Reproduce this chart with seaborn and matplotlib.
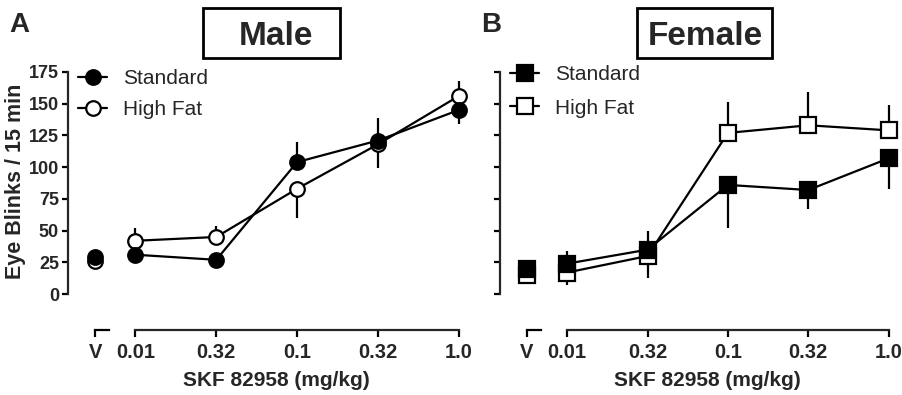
import numpy as np
import pandas as pd
import matplotlib
matplotlib.use('Agg')
import matplotlib.pyplot as plt
import seaborn as sns
from matplotlib.patches import Rectangle
from matplotlib.spines import Spine

# ---------------- data ----------------
dose_labels = ['V', '0.01', '0.32', '0.1', '0.32', '1.0']
dose_pos = [-0.5, 0, 1, 2, 3, 4]
y_ticks = [0, 25, 50, 75, 100, 125, 150, 175]

male_std = [29, 31, 27, 104, 121, 145]
male_std_up = [0, 0, 0, 16, 18, 0]
male_std_dn = [0, 0, 0, 0, 0, 11]
male_hf = [26, 42, 45, 83, 118, 156]
male_hf_up = [0, 10, 9, 0, 0, 12]
male_hf_dn = [0, 0, 0, 23, 19, 0]

fem_std = [20, 24, 35, 86, 82, 107]
fem_std_up = [6, 10, 15, 0, 0, 0]
fem_std_dn = [0, 0, 0, 34, 15, 24]
fem_hf = [15, 17, 30, 127, 133, 129]
fem_hf_up = [0, 0, 0, 24, 26, 20]
fem_hf_dn = [0, 10, 17, 0, 0, 0]

# ---------------- style ----------------
sns.set_style('ticks')
plt.rcParams['font.family'] = ['Liberation Sans', 'DejaVu Sans']
LW = 1.6

fig = plt.figure(figsize=(9.03, 3.95), dpi=100)
W, H = 903.0, 395.0

axA = fig.add_axes([68 / W, (H - 330) / H, 402 / W, 265 / H])
axB = fig.add_axes([500 / W, (H - 330) / H, 400 / W, 265 / H])


def panel(ax, std, std_up, std_dn, hf, hf_up, hf_dn, marker, ms, legend_pos, lspace):
    handles = {}
    for name, vals, up, dn, fc in [('High Fat', hf, hf_up, hf_dn, 'white'),
                                   ('Standard', std, std_up, std_dn, 'black')]:
        df = pd.DataFrame({'x': dose_pos, 'y': vals, 'up': up, 'dn': dn})
        ax.errorbar(df['x'], df['y'], yerr=[df['dn'], df['up']], fmt='none',
                    ecolor='black', elinewidth=LW, capsize=0)
        d = df.iloc[1:]
        sns.lineplot(data=d, x='x', y='y', ax=ax, color='black', lw=LW,
                     marker=marker, ms=ms, mfc=fc, mec='black', mew=LW,
                     label=name, legend=False)
        handles[name] = ax.lines[-1]
        v = df.iloc[:1]
        sns.lineplot(data=v, x='x', y='y', ax=ax, color='black', lw=0,
                     marker=marker, ms=ms, mfc=fc, mec='black', mew=LW,
                     legend=False)

    ax.set_xlim(-0.835, 4.14)
    ax.set_ylim(-28.3, 180.5)
    ax.set_xticks(dose_pos)
    ax.set_xticklabels(dose_labels, fontsize=14.5, fontweight='bold')
    ax.set_yticks(y_ticks)
    for s in ['top', 'right']:
        ax.spines[s].set_visible(False)
    ax.spines['left'].set_bounds(0, 175)
    ax.spines['bottom'].set_bounds(0, 4)
    ax.spines['left'].set_linewidth(LW)
    ax.spines['bottom'].set_linewidth(LW)
    vsp = Spine.linear_spine(ax, 'bottom')
    ax.spines['vbottom'] = vsp
    vsp.set_position(('axes', 0.0))
    vsp.set_bounds(-0.5, -0.33)
    vsp.set_linewidth(LW)
    vsp.set_color('black')
    ax.tick_params(axis='x', direction='out', length=5, width=LW, pad=4, color='black')
    ax.tick_params(axis='y', direction='out', length=4.5, width=LW, pad=2, color='black')
    ax.set_xlabel('SKF 82958 (mg/kg)', fontsize=15, fontweight='bold')
    ax.xaxis.set_label_coords(0.518, -0.155)
    ax.set_ylabel('')

    ax.legend([handles['Standard'], handles['High Fat']], ['Standard', 'High Fat'],
              loc='upper left', bbox_to_anchor=legend_pos,
              bbox_transform=fig.transFigure, frameon=False, fontsize=15,
              handlelength=1.4, handletextpad=0.75, labelspacing=lspace,
              borderpad=0, borderaxespad=0, numpoints=1)
    return ax


panel(axA, male_std, male_std_up, male_std_dn, male_hf, male_hf_up, male_hf_dn,
      'o', 10.5, (78 / W, 1 - 69 / H), 0.58)
panel(axB, fem_std, fem_std_up, fem_std_dn, fem_hf, fem_hf_up, fem_hf_dn,
      's', 11, (510 / W, 1 - 65 / H), 0.7)

axA.set_yticklabels([str(t) for t in y_ticks], fontsize=13, fontweight='bold')
axB.set_yticklabels([])
axA.set_ylabel('Eye Blinks / 15 min', fontsize=15.5, fontweight='bold')
axA.yaxis.set_label_coords(-0.105, 0.56)

# titles with boxes
for (x0, w, tx, txt) in [(203, 137, 276, 'Male'), (637, 135, 705, 'Female')]:
    fig.patches.append(Rectangle((x0 / W, 1 - 58 / H), w / W, 50 / H,
                                 transform=fig.transFigure, fill=False,
                                 edgecolor='black', linewidth=2.0))
    fig.text(tx / W, 1 - 45 / H, txt, ha='center', va='baseline',
             fontsize=24, fontweight='bold')

fig.text(9 / W, 1 - 32 / H, 'A', ha='left', va='baseline', fontsize=20, fontweight='bold')
fig.text(481 / W, 1 - 32 / H, 'B', ha='left', va='baseline', fontsize=20, fontweight='bold')

fig.savefig('out.png', dpi=100, facecolor='white')
